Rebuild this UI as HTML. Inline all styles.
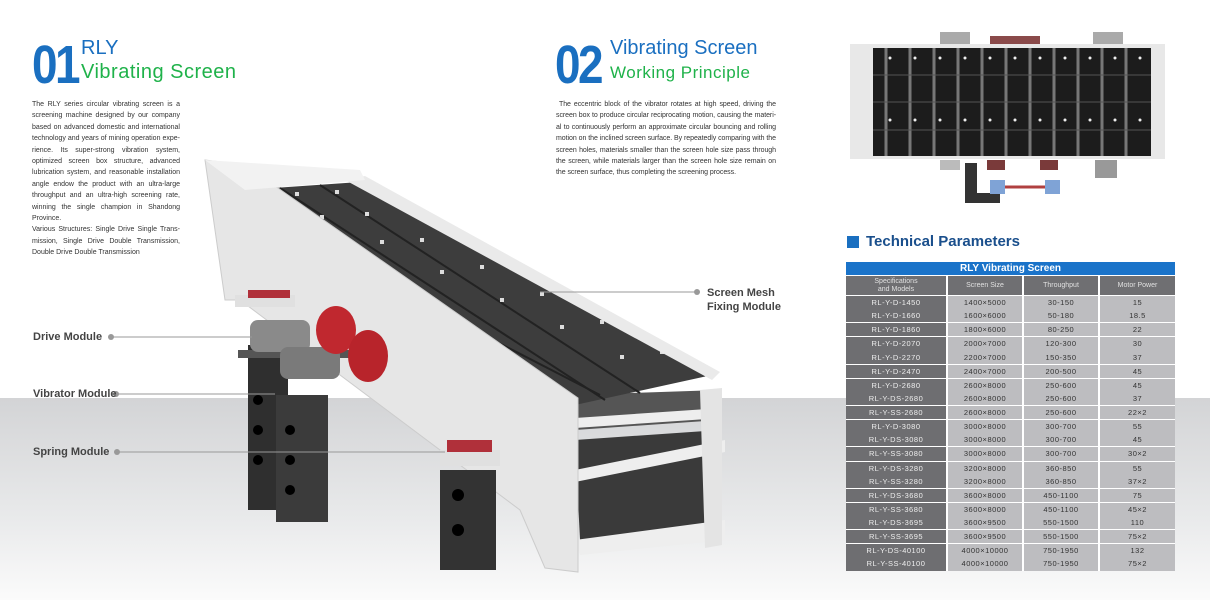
<!DOCTYPE html>
<html><head><meta charset="utf-8"><style>
*{margin:0;padding:0;box-sizing:border-box}
body{width:1210px;height:600px;overflow:hidden;position:relative;font-family:"Liberation Sans",sans-serif;background:#fff}
.bg{position:absolute;left:0;top:398px;width:1210px;height:202px;background:linear-gradient(#d3d4d6,#e9eaeb 60%,#fbfbfb)}
.num{position:absolute;font-weight:bold;color:#1a6fc0;font-size:54px;letter-spacing:-3px;transform:scaleX(.85);transform-origin:left top;line-height:1}
.t1{position:absolute;color:#1a6fc0;font-size:20px}
.t2{position:absolute;color:#1fb24a;font-size:20px;letter-spacing:.5px}
.p{position:absolute;font-size:7px;line-height:11.4px;color:#333;text-align:justify}
.lab{position:absolute;font-size:11px;font-weight:bold;color:#444}
.tb{position:absolute;left:846px;top:262px;width:329px;font-size:7.5px;text-align:center}
.row{display:flex;height:13.2px;line-height:13px;letter-spacing:.5px}
.row div{border-right:2px solid #fff}
.c1{width:102px;background:#6e6e71;color:#eee}
.c2{width:76px;background:#bdbdc0;color:#333}
.c3{width:76px;background:#bdbdc0;color:#333}
.c4{width:75px;background:#bdbdc0;color:#333;border-right:0!important}
.g{border-bottom:1.5px solid #fff;height:14.1px}
.hd{height:13px;line-height:13px;background:#1a73c9;color:#fff;font-weight:bold;font-size:10px}
.h2{display:flex;height:21px;border-top:1px solid #fff;border-bottom:1.5px solid #fff}
.h2 div{background:#6f6f72;color:#e0e0e0;font-size:7px;line-height:8px;border-right:2px solid #fff;display:flex;align-items:center;justify-content:center}
</style></head><body>
<div class="bg"></div>
<div class="num" style="left:32px;top:38px">01</div>
<div class="t1" style="left:81px;top:37px">RLY</div>
<div class="t2" style="left:81px;top:61px">Vibrating Screen</div>
<div class="p" style="left:32px;top:99px;width:148px">The RLY series circular vibrating screen is a screening machine designed by our company based on advanced domestic and international technology and years of mining operation expe- rience. Its super-strong vibration system, optimized screen box structure, advanced lubrication system, and reasonable installation angle endow the product with an ultra-large throughput and an ultra-high screening rate, winning the single champion in Shandong Province.<br>Various Structures: Single Drive Single Trans- mission, Single Drive Double Transmission, Double Drive Double Transmission</div>
<div class="num" style="left:555px;top:38px">02</div>
<div class="t1" style="left:610px;top:37px">Vibrating Screen</div>
<div class="t2" style="left:610px;top:63px;font-size:17px">Working Principle</div>
<div class="p" style="left:556px;top:99px;width:220px;letter-spacing:-0.05px">&nbsp;The eccentric block of the vibrator rotates at high speed, driving the screen box to produce circular reciprocating motion, causing the materi- al to continuously perform an approximate circular bouncing and rolling motion on the inclined screen surface. By repeatedly comparing with the screen holes, materials smaller than the screen hole size pass through the screen, while materials larger than the screen hole size remain on the screen surface, thus completing the screening process.</div>

<svg style="position:absolute;left:0;top:0" width="1210" height="600">
<polygon points="570,395 720,390 720,420 575,430" fill="#555"/>
<polygon points="575,440 720,430 720,530 580,540" fill="#3a3a3a"/>
<polygon points="575,418 722,408 722,418 575,428" fill="#eee"/>
<polygon points="575,470 725,440 725,452 575,482" fill="#eee"/>
<polygon points="575,540 725,520 725,540 580,555" fill="#eee"/>
<polygon points="700,390 722,388 722,545 705,548" fill="#e4e4e4"/>
<polygon points="245,190 360,182 712,375 575,405" fill="#3d3d3d"/>
<g stroke="#222" stroke-width="2">
<line x1="280" y1="188" x2="605" y2="400"/><line x1="320" y1="185" x2="640" y2="393"/><line x1="250" y1="215" x2="600" y2="395"/>
</g>
<g fill="#ddd">
<rect x="295" y="192" width="4" height="4"/><rect x="335" y="190" width="4" height="4"/><rect x="320" y="215" width="4" height="4"/><rect x="365" y="212" width="4" height="4"/><rect x="380" y="240" width="4" height="4"/><rect x="420" y="238" width="4" height="4"/><rect x="440" y="270" width="4" height="4"/><rect x="480" y="265" width="4" height="4"/><rect x="500" y="298" width="4" height="4"/><rect x="540" y="292" width="4" height="4"/><rect x="560" y="325" width="4" height="4"/><rect x="600" y="320" width="4" height="4"/><rect x="620" y="355" width="4" height="4"/><rect x="660" y="350" width="4" height="4"/>
</g>
<polygon points="345,180 365,176 720,372 712,380" fill="#eaeaea"/>
<polygon points="205,160 245,165 578,398 578,572 545,568 520,510 240,300 225,300" fill="#e6e6e6" stroke="#ccc"/>
<polygon points="205,160 360,170 365,180 245,190" fill="#f2f2f2"/>
<rect x="248" y="345" width="40" height="165" fill="#2f2f2f"/>
<rect x="276" y="395" width="52" height="127" fill="#3b3b3b"/>
<rect x="440" y="470" width="56" height="100" fill="#333"/>
<g fill="#000"><circle cx="258" cy="400" r="5"/><circle cx="258" cy="430" r="5"/><circle cx="258" cy="460" r="5"/><circle cx="290" cy="430" r="5"/><circle cx="290" cy="460" r="5"/><circle cx="290" cy="490" r="5"/><circle cx="458" cy="495" r="6"/><circle cx="458" cy="530" r="6"/></g>
<rect x="238" y="350" width="140" height="8" fill="#555"/>
<rect x="235" y="295" width="60" height="12" fill="#e0e0e0"/>
<rect x="248" y="290" width="42" height="8" fill="#b0303a"/>
<rect x="440" y="450" width="60" height="16" fill="#e0e0e0"/>
<rect x="447" y="440" width="45" height="12" fill="#b0303a"/>
<rect x="250" y="320" width="60" height="32" rx="8" fill="#8a8a8a"/>
<rect x="280" y="347" width="60" height="32" rx="8" fill="#7a7a7a"/>
<ellipse cx="336" cy="330" rx="20" ry="24" fill="#c0282f"/>
<ellipse cx="368" cy="356" rx="20" ry="26" fill="#b8242b"/>
<line x1="111" y1="337" x2="252" y2="337" stroke="#999"/>
<line x1="116" y1="394" x2="275" y2="394" stroke="#999"/>
<line x1="117" y1="452" x2="445" y2="452" stroke="#999"/>
<line x1="540" y1="292" x2="697" y2="292" stroke="#999"/>
<g fill="#999"><circle cx="111" cy="337" r="3"/><circle cx="116" cy="394" r="3"/><circle cx="117" cy="452" r="3"/><circle cx="697" cy="292" r="3"/></g>
<rect x="940" y="32" width="30" height="12" fill="#aaa"/><rect x="1093" y="32" width="30" height="12" fill="#aaa"/>
<rect x="990" y="36" width="50" height="8" fill="#8a4a4a"/>
<rect x="850" y="44" width="315" height="115" fill="#e8e8e8"/>
<rect x="873" y="48" width="278" height="108" fill="#1c1c1c"/>
<g stroke="#777" stroke-width="3">
<line x1="886" y1="48" x2="886" y2="156"/><line x1="910" y1="48" x2="910" y2="156"/><line x1="934" y1="48" x2="934" y2="156"/><line x1="958" y1="48" x2="958" y2="156"/><line x1="982" y1="48" x2="982" y2="156"/><line x1="1006" y1="48" x2="1006" y2="156"/><line x1="1030" y1="48" x2="1030" y2="156"/><line x1="1054" y1="48" x2="1054" y2="156"/><line x1="1078" y1="48" x2="1078" y2="156"/><line x1="1102" y1="48" x2="1102" y2="156"/><line x1="1126" y1="48" x2="1126" y2="156"/>
</g>
<g stroke="#555" stroke-width="1"><line x1="873" y1="75" x2="1151" y2="75"/><line x1="873" y1="102" x2="1151" y2="102"/><line x1="873" y1="130" x2="1151" y2="130"/></g>
<g fill="#eee"><circle cx="890" cy="58" r="1.5"/><circle cx="915" cy="58" r="1.5"/><circle cx="940" cy="58" r="1.5"/><circle cx="965" cy="58" r="1.5"/><circle cx="990" cy="58" r="1.5"/><circle cx="1015" cy="58" r="1.5"/><circle cx="1040" cy="58" r="1.5"/><circle cx="1065" cy="58" r="1.5"/><circle cx="1090" cy="58" r="1.5"/><circle cx="1115" cy="58" r="1.5"/><circle cx="1140" cy="58" r="1.5"/>
<circle cx="890" cy="120" r="1.5"/><circle cx="915" cy="120" r="1.5"/><circle cx="940" cy="120" r="1.5"/><circle cx="965" cy="120" r="1.5"/><circle cx="990" cy="120" r="1.5"/><circle cx="1015" cy="120" r="1.5"/><circle cx="1040" cy="120" r="1.5"/><circle cx="1065" cy="120" r="1.5"/><circle cx="1090" cy="120" r="1.5"/><circle cx="1115" cy="120" r="1.5"/><circle cx="1140" cy="120" r="1.5"/></g>
<rect x="965" y="163" width="12" height="40" fill="#333"/><rect x="965" y="193" width="35" height="10" fill="#333"/>
<rect x="987" y="160" width="18" height="10" fill="#7a3a3a"/><rect x="1040" y="160" width="18" height="10" fill="#7a3a3a"/>
<rect x="990" y="180" width="15" height="14" fill="#7fa3d6"/><rect x="1045" y="180" width="15" height="14" fill="#7fa3d6"/>
<line x1="1005" y1="187" x2="1045" y2="187" stroke="#b04040" stroke-width="3"/>
<rect x="1095" y="160" width="22" height="18" fill="#999"/><rect x="940" y="160" width="20" height="10" fill="#bbb"/>
</svg>
<div class="lab" style="left:33px;top:331px">Drive Module</div>
<div class="lab" style="left:33px;top:388px">Vibrator Module</div>
<div class="lab" style="left:33px;top:446px">Spring Module</div>
<div class="lab" style="left:707px;top:286px;line-height:14px">Screen Mesh<br>Fixing Module</div>
<div style="position:absolute;left:847px;top:236px;width:12px;height:12px;background:#1a6fc0"></div>
<div style="position:absolute;left:866px;top:233px;font-size:15px;font-weight:bold;color:#1a4f8c">Technical Parameters</div>
<div class="tb">
<div class="hd">RLY Vibrating Screen</div>
<div class="h2"><div style="width:102px">Specifications<br>and Models</div><div style="width:76px">Screen Size</div><div style="width:76px">Throughput</div><div style="width:75px;border-right:0">Motor Power</div></div>
<div class="row"><div class="c1">RL-Y-D-1450</div><div class="c2">1400×5000</div><div class="c3">30-150</div><div class="c4">15</div></div>
<div class="row g"><div class="c1">RL-Y-D-1660</div><div class="c2">1600×6000</div><div class="c3">50-180</div><div class="c4">18.5</div></div>
<div class="row g"><div class="c1">RL-Y-D-1860</div><div class="c2">1800×6000</div><div class="c3">80-250</div><div class="c4">22</div></div>
<div class="row"><div class="c1">RL-Y-D-2070</div><div class="c2">2000×7000</div><div class="c3">120-300</div><div class="c4">30</div></div>
<div class="row g"><div class="c1">RL-Y-D-2270</div><div class="c2">2200×7000</div><div class="c3">150-350</div><div class="c4">37</div></div>
<div class="row g"><div class="c1">RL-Y-D-2470</div><div class="c2">2400×7000</div><div class="c3">200-500</div><div class="c4">45</div></div>
<div class="row"><div class="c1">RL-Y-D-2680</div><div class="c2">2600×8000</div><div class="c3">250-600</div><div class="c4">45</div></div>
<div class="row g"><div class="c1">RL-Y-DS-2680</div><div class="c2">2600×8000</div><div class="c3">250-600</div><div class="c4">37</div></div>
<div class="row g"><div class="c1">RL-Y-SS-2680</div><div class="c2">2600×8000</div><div class="c3">250-600</div><div class="c4">22×2</div></div>
<div class="row"><div class="c1">RL-Y-D-3080</div><div class="c2">3000×8000</div><div class="c3">300-700</div><div class="c4">55</div></div>
<div class="row g"><div class="c1">RL-Y-DS-3080</div><div class="c2">3000×8000</div><div class="c3">300-700</div><div class="c4">45</div></div>
<div class="row g"><div class="c1">RL-Y-SS-3080</div><div class="c2">3000×8000</div><div class="c3">300-700</div><div class="c4">30×2</div></div>
<div class="row"><div class="c1">RL-Y-DS-3280</div><div class="c2">3200×8000</div><div class="c3">360-850</div><div class="c4">55</div></div>
<div class="row g"><div class="c1">RL-Y-SS-3280</div><div class="c2">3200×8000</div><div class="c3">360-850</div><div class="c4">37×2</div></div>
<div class="row g"><div class="c1">RL-Y-DS-3680</div><div class="c2">3600×8000</div><div class="c3">450-1100</div><div class="c4">75</div></div>
<div class="row"><div class="c1">RL-Y-SS-3680</div><div class="c2">3600×8000</div><div class="c3">450-1100</div><div class="c4">45×2</div></div>
<div class="row g"><div class="c1">RL-Y-DS-3695</div><div class="c2">3600×9500</div><div class="c3">550-1500</div><div class="c4">110</div></div>
<div class="row g"><div class="c1">RL-Y-SS-3695</div><div class="c2">3600×9500</div><div class="c3">550-1500</div><div class="c4">75×2</div></div>
<div class="row"><div class="c1">RL-Y-DS-40100</div><div class="c2">4000×10000</div><div class="c3">750-1950</div><div class="c4">132</div></div>
<div class="row"><div class="c1">RL-Y-SS-40100</div><div class="c2">4000×10000</div><div class="c3">750-1950</div><div class="c4">75×2</div></div>
</div>
</body></html>
